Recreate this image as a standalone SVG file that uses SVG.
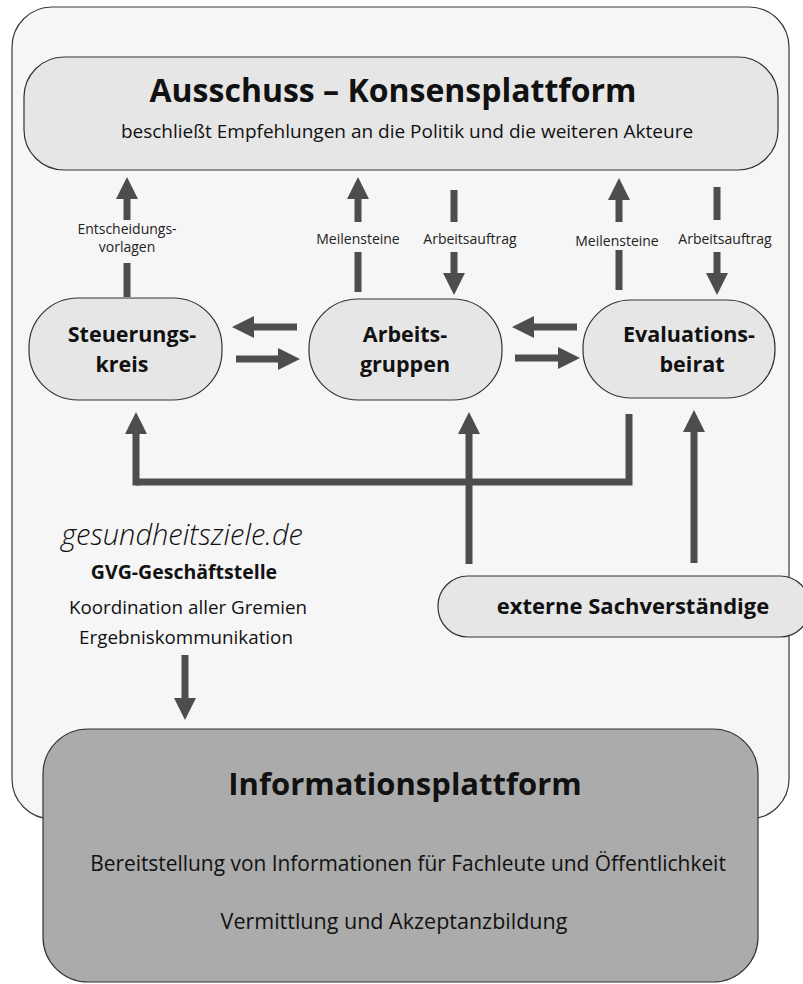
<svg xmlns="http://www.w3.org/2000/svg" width="803" height="984" viewBox="0 0 803 984">
<defs>
<style>
.frame{fill:#f6f6f6;stroke:#3a3a3a;stroke-width:1.2}
.node{fill:#e6e6e6;stroke:#333;stroke-width:1.2}
.info{fill:#ababab;stroke:#333;stroke-width:1.2}
.t{font-family:"Open Sans","Noto Sans",sans-serif;fill:#111;text-anchor:middle}
.b{font-weight:bold}
.n{font-size:21.5px}
.lbl{font-family:"Open Sans","Noto Sans",sans-serif;fill:#222;text-anchor:middle;font-size:14px}
.ar{stroke:#4d4d4d;stroke-width:7;fill:none}
</style>
<marker id="ah" markerUnits="userSpaceOnUse" markerWidth="22" markerHeight="22" refX="3" refY="11" orient="auto">
<path d="M0,0 L22,11 L0,22 Z" fill="#4d4d4d"/>
</marker>
</defs>
<rect class="frame" x="12" y="7" width="777" height="812" rx="40"/>
<g id="ausschuss">
<rect class="node" x="24" y="57" width="754" height="113" rx="40"/>
<text class="t b" x="393" y="102" font-size="32">Ausschuss – Konsensplattform</text>
<text class="t" x="407" y="138" font-size="19">beschließt Empfehlungen an die Politik und die weiteren Akteure</text>
</g>
<g id="steuerungskreis">
<rect class="node" x="29" y="298" width="193" height="102" rx="49"/>
<text class="t b n" x="132" y="342">Steuerungs-</text>
<text class="t b n" x="122" y="372">kreis</text>
</g>
<g id="arbeitsgruppen">
<rect class="node" x="309" y="299" width="193" height="101" rx="49"/>
<text class="t b n" x="405" y="342">Arbeits-</text>
<text class="t b n" x="405" y="372">gruppen</text>
</g>
<g id="evaluationsbeirat">
<rect class="node" x="583" y="300" width="192" height="98" rx="48"/>
<text class="t b n" x="689" y="342">Evaluations-</text>
<text class="t b n" x="692" y="372">beirat</text>
</g>
<g id="geschaeftsstelle">
<text class="t" x="182" y="545" font-size="29" font-style="italic" font-weight="300">gesundheitsziele.de</text>
<text class="t b" x="184" y="579" font-size="19.5">GVG-Geschäftstelle</text>
<text class="t" x="188" y="614" font-size="18.8">Koordination aller Gremien</text>
<text class="t" x="186" y="644" font-size="18.8">Ergebniskommunikation</text>
</g>
<g id="externe">
<rect class="node" x="438" y="576" width="372" height="61" rx="30"/>
<text class="t b" x="633" y="614" font-size="22">externe Sachverständige</text>
</g>
<g id="informationsplattform">
<rect class="info" x="43" y="729" width="715" height="253" rx="45"/>
<text class="t b" x="405" y="795" font-size="31">Informationsplattform</text>
<text class="t" x="408" y="871" font-size="20.9">Bereitstellung von Informationen für Fachleute und Öffentlichkeit</text>
<text class="t" x="394" y="929" font-size="21.5">Vermittlung und Akzeptanzbildung</text>
</g>
<g id="connectors">
<line class="ar" x1="127" y1="220" x2="127" y2="196" marker-end="url(#ah)"/>
<line class="ar" x1="127" y1="263" x2="127" y2="297"/>
<text class="lbl" x="127" y="234" font-size="13">Entscheidungs-</text>
<text class="lbl" x="127" y="252" font-size="13">vorlagen</text>

<line class="ar" x1="358" y1="222" x2="358" y2="196" marker-end="url(#ah)"/>
<line class="ar" x1="358" y1="252" x2="358" y2="292"/>
<text class="lbl" x="358" y="244">Meilensteine</text>

<line class="ar" x1="454" y1="190" x2="454" y2="222"/>
<line class="ar" x1="454" y1="252" x2="454" y2="276" marker-end="url(#ah)"/>
<text class="lbl" x="470" y="244">Arbeitsauftrag</text>

<line class="ar" x1="619" y1="222" x2="619" y2="197" marker-end="url(#ah)"/>
<line class="ar" x1="619" y1="250" x2="619" y2="290"/>
<text class="lbl" x="617" y="246">Meilensteine</text>

<line class="ar" x1="717" y1="187" x2="717" y2="220"/>
<line class="ar" x1="717" y1="252" x2="717" y2="276" marker-end="url(#ah)"/>
<text class="lbl" x="725" y="244">Arbeitsauftrag</text>

<line class="ar" x1="297" y1="327" x2="251" y2="327" marker-end="url(#ah)"/>
<line class="ar" x1="236" y1="359" x2="281" y2="359" marker-end="url(#ah)"/>
<line class="ar" x1="577" y1="327" x2="531" y2="327" marker-end="url(#ah)"/>
<line class="ar" x1="515" y1="358" x2="561" y2="358" marker-end="url(#ah)"/>

<path class="ar" d="M136,482 L629,482 L629,414"/>
<line class="ar" x1="136" y1="485.5" x2="136" y2="431" marker-end="url(#ah)"/>
<line class="ar" x1="469" y1="564" x2="469" y2="431" marker-end="url(#ah)"/>
<line class="ar" x1="694" y1="563" x2="694" y2="429" marker-end="url(#ah)"/>
<line class="ar" x1="185" y1="655" x2="185" y2="701" marker-end="url(#ah)"/>
</g>
</svg>
